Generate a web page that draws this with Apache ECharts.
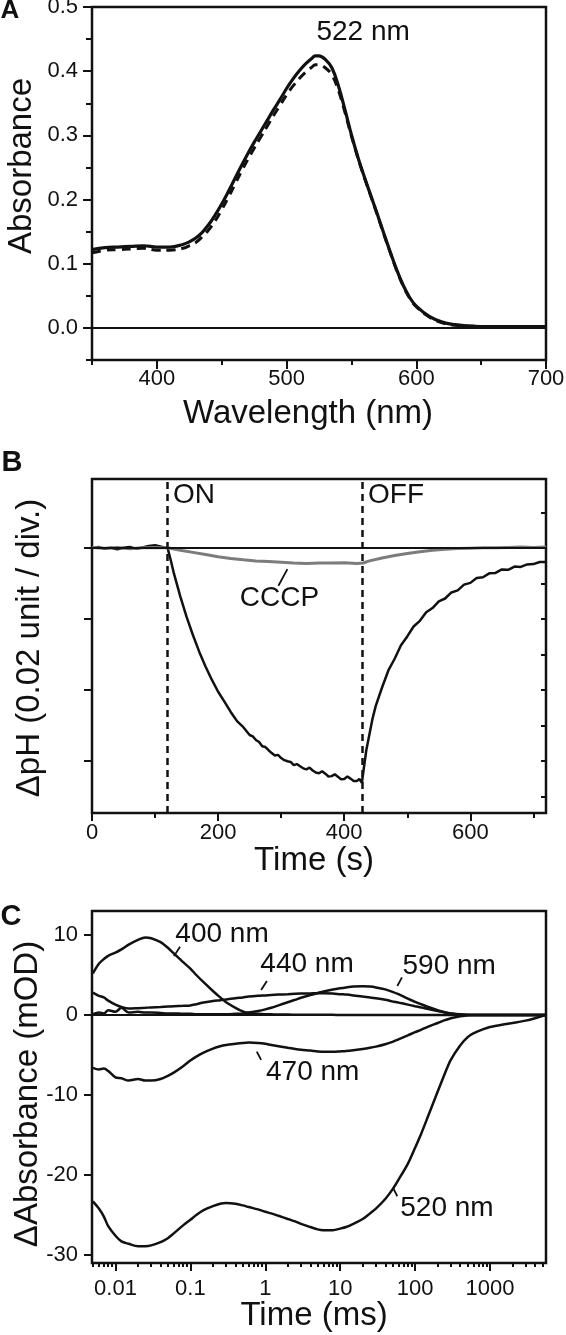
<!DOCTYPE html>
<html><head><meta charset="utf-8">
<script src="https://cdn.jsdelivr.net/npm/echarts@6/dist/echarts.min.js"></script>
<style>html,body{margin:0;padding:0;background:#fff}#c{width:566px;height:1335px}</style>
</head><body><div id="c"></div>
<script>
// ---------- Panel A : absorption spectra ----------
const wavelengths = [350,360,370,380,390,400,410,420,425,430,435,440,445,450,455,460,465,470,475,480,485,490,495,500,505,510,515,520,522,525,530,535,540,545,550,555,560,565,570,575,580,585,590,595,600,610,620,630,640,660,680,700];
const absSolid    = [0.122,0.125,0.126,0.127,0.128,0.126,0.126,0.130,0.134,0.140,0.149,0.161,0.176,0.193,0.212,0.232,0.252,0.271,0.289,0.306,0.323,0.340,0.356,0.373,0.388,0.401,0.412,0.421,0.424,0.424,0.418,0.405,0.377,0.340,0.301,0.266,0.235,0.206,0.177,0.147,0.118,0.090,0.066,0.047,0.034,0.018,0.009,0.005,0.003,0.002,0.002,0.002];
const absDashed   = [0.117,0.121,0.122,0.123,0.124,0.121,0.121,0.124,0.128,0.133,0.142,0.153,0.167,0.184,0.203,0.223,0.243,0.262,0.280,0.297,0.314,0.331,0.347,0.363,0.377,0.389,0.399,0.407,0.410,0.410,0.405,0.394,0.370,0.336,0.299,0.265,0.234,0.205,0.176,0.146,0.117,0.089,0.065,0.046,0.033,0.017,0.008,0.004,0.003,0.002,0.002,0.002];
const aXLabels = [400,500,600,700];
const aXMinor  = [350,450,550,650];
const aYLabels = [0,0.1,0.2,0.3,0.4,0.5];
const aYMinor  = [-0.05,0.05,0.15,0.25,0.35,0.45];

// ---------- Panel B : pH change ----------
const timeB = [0,10,20,30,40,50,60,70,80,90,100,110,120,125,130,140,150,160,170,180,190,200,210,220,230,240,250,255,260,265,270,275,280,285,290,295,300,305,310,315,320,325,330,335,340,345,350,355,360,365,370,375,380,385,390,395,400,405,410,415,420,424,428,430,435,440,445,450,460,470,480,490,500,510,520,530,540,550,560,570,580,590,600,610,620,630,640,650,660,670,680,690,700,710,720];
const dpH   = [0,0.0003,-0.0002,0.0001,-0.0003,0.0001,0.0003,-0.0002,0.0002,0.0006,0.0008,0.0004,0,-0.0035,-0.0072,-0.0136,-0.0194,-0.0245,-0.0292,-0.0334,-0.0371,-0.0405,-0.0433,-0.0462,-0.0488,-0.0505,-0.0527,-0.0531,-0.0541,-0.0547,-0.0559,-0.0561,-0.057,-0.0578,-0.0585,-0.0583,-0.0592,-0.0598,-0.0601,-0.0603,-0.0612,-0.0609,-0.0615,-0.0621,-0.0624,-0.0619,-0.0627,-0.0633,-0.0635,-0.0629,-0.0636,-0.0644,-0.0643,-0.0638,-0.0645,-0.0652,-0.0651,-0.0644,-0.0650,-0.0657,-0.0657,-0.0651,-0.0662,-0.0635,-0.057,-0.0525,-0.048,-0.0445,-0.0393,-0.0345,-0.0312,-0.0274,-0.0249,-0.0221,-0.0205,-0.0181,-0.0169,-0.015,-0.0142,-0.0125,-0.0119,-0.0103,-0.0098,-0.0084,-0.0082,-0.0071,-0.007,-0.006,-0.0061,-0.0052,-0.0053,-0.0046,-0.0045,-0.0039,-0.0039];
const timeCCCP = [0,20,40,60,80,100,120,140,160,180,200,220,240,260,280,300,320,340,360,380,400,420,430,440,460,480,500,520,540,560,580,600,620,640,660,680,700,720];
const dpHCCCP  = [0.0002,0,0.0002,-0.0002,0.0001,0.0002,0.0001,-0.0006,-0.0012,-0.0018,-0.0024,-0.0029,-0.0033,-0.0036,-0.0038,-0.004,-0.0042,-0.0043,-0.0042,-0.0042,-0.0041,-0.0043,-0.0042,-0.0036,-0.0028,-0.0021,-0.0015,-0.001,-0.0006,-0.0003,-0.0001,0,0.0001,0.0001,0.0002,0.0003,0.0002,0.0003];
const lightTimes = [120, 428];
const bXLabels = [0,200,400,600];
const bXMinor  = [100,300,500,700];
const bYMajor  = [0,-0.02,-0.04,-0.06];
const bYRight  = [0.01,0,-0.01,-0.02,-0.03,-0.04,-0.05,-0.06,-0.07];

// ---------- Panel C : flash-induced absorbance changes ----------
const timeC = [0.005,0.006,0.007,0.008,0.01,0.012,0.015,0.02,0.025,0.03,0.04,0.05,0.06,0.08,0.1,0.12,0.15,0.2,0.25,0.3,0.4,0.5,0.6,0.8,1,1.2,1.5,2,2.5,3,4,5,6,8,10,12,15,20,25,30,40,50,60,80,100,120,150,200,250,300,400,500,600,800,1000,1500,2000,3000,4000,5500];
const d400 = [5.2,6.4,7.0,7.4,7.8,8.2,8.8,9.4,9.7,9.6,9.1,8.4,7.7,6.6,5.8,5.0,4.1,3.0,2.2,1.6,0.9,0.45,0.25,0.15,0.1,0.08,0.05,0.05,0.04,0.03,0.03,0.02,0.02,0.02,0.01,0.01,0.01,0,0,0,0,0,0,0,0,0,0,0,0,0,0,0,0,0,0,0,0,0,0,0];
const d440 = [2.8,2.4,2.2,1.8,1.3,1.0,0.8,0.85,0.9,0.95,1.0,1.05,1.1,1.15,1.2,1.35,1.55,1.75,1.85,1.95,2.1,2.2,2.3,2.4,2.45,2.5,2.55,2.6,2.65,2.68,2.7,2.72,2.72,2.68,2.6,2.55,2.45,2.3,2.2,2.1,1.9,1.7,1.55,1.3,1.1,0.95,0.75,0.5,0.32,0.2,0.08,0.03,0,0,0,0,0,0,0,0];
const d470 = [-6.6,-6.8,-6.7,-7.0,-7.8,-7.9,-8.2,-8.0,-8.2,-8.2,-8.0,-7.6,-7.2,-6.4,-5.7,-5.2,-4.7,-4.2,-3.9,-3.75,-3.6,-3.5,-3.45,-3.5,-3.6,-3.75,-3.9,-4.1,-4.25,-4.35,-4.45,-4.55,-4.6,-4.6,-4.55,-4.5,-4.4,-4.25,-4.1,-3.95,-3.65,-3.35,-3.05,-2.55,-2.15,-1.85,-1.45,-1.0,-0.65,-0.4,-0.15,-0.05,0,0,0,0,0,0,0,0];
const d520 = [-23.3,-24.2,-25.2,-26.4,-27.6,-28.3,-28.6,-28.9,-28.9,-28.8,-28.4,-27.9,-27.3,-26.3,-25.6,-25.0,-24.4,-23.9,-23.6,-23.5,-23.6,-23.8,-24.0,-24.3,-24.6,-24.8,-25.1,-25.5,-25.8,-26.1,-26.5,-26.8,-26.9,-26.9,-26.7,-26.5,-26.1,-25.5,-24.8,-24.2,-23.0,-21.8,-20.6,-18.6,-16.6,-14.9,-12.6,-9.6,-7.3,-5.6,-3.8,-2.8,-2.3,-1.8,-1.5,-1.2,-1.0,-0.7,-0.4,0];
const d590 = [0.1,0.3,0.2,0.6,0.4,0.9,0.3,0.4,0.3,0.3,0.25,0.2,0.2,0.15,0.15,0.1,0.1,0.1,0.1,0.1,0.15,0.2,0.3,0.5,0.7,0.9,1.2,1.6,1.9,2.15,2.5,2.75,2.95,3.2,3.35,3.45,3.55,3.6,3.55,3.45,3.2,2.9,2.6,2.05,1.65,1.35,1.0,0.6,0.35,0.18,0.05,0,0,0,0,0,0,0,0,0];
const cXLabels = [0.01,0.1,1,10,100,1000];
const cXLabelText = ['0.01','0.1','1','10','100','1000'];
const cXMinor = [0.005,0.006,0.007,0.008,0.009,0.02,0.03,0.04,0.05,0.06,0.07,0.08,0.09,0.2,0.3,0.4,0.5,0.6,0.7,0.8,0.9,2,3,4,5,6,7,8,9,20,30,40,50,60,70,80,90,200,300,400,500,600,700,800,900,2000,3000,4000,5000];
const cYLabels = [-30,-20,-10,0,10];

// annotations (data coordinates)
const annA = [{text:'522 nm', x:559, y:0.461, align:'center'}];
const annB = [{text:'ON', x:128.5, y:0.0150, align:'left'},{text:'OFF', x:437.7, y:0.0150, align:'left'},{text:'CCCP', x:297.4, y:-0.0141, align:'center'}];
const leadB = [[309.9,-0.0059,295.6,-0.0106]];
const annC = [{text:'400 nm',x:0.2647,y:10.1},{text:'440 nm',x:3.61,y:6.36},{text:'590 nm',x:285.6,y:6.11},{text:'470 nm',x:4.30,y:-7.15},{text:'520 nm',x:266.5,y:-24.2}];
const leadC = [[0.0604,7.36,0.0728,8.52],[0.880,3.12,1.052,4.24],[57.9,3.62,66.9,4.70],[0.771,-4.58,0.880,-5.61],[50.8,-21.62,57.9,-22.66]];

// ---------- chart ----------
const FONT = '"Liberation Sans", Arial, Helvetica, sans-serif';
const BLACK = '#111';
const GRAY = '#7c7c7c';
const zip = (xs, ys) => xs.map((x, i) => [x, ys[i]]);

function grid(top, height) {
  return {left: 92, width: 454, top: top, height: height, show: true, borderColor: BLACK, borderWidth: 2.5,
          backgroundColor: 'transparent', containLabel: false, outerBoundsMode: 'none'};
}
function axis(kind, opts) {
  const a = {
    type: opts.type || 'value', gridIndex: opts.grid, position: opts.position,
    min: opts.min, max: opts.max,
    axisLine: {show: false, onZero: false},
    splitLine: {show: false},
    axisTick: {show: !!opts.ticks, inside: !!opts.inside, length: opts.len || 8, customValues: opts.ticks,
               lineStyle: {color: BLACK, width: 2}},
    axisLabel: opts.labels ? {show: true, customValues: opts.labels, formatter: opts.fmt, margin: opts.margin,
               fontSize: 22, color: BLACK, fontFamily: FONT} : {show: false},
    minorTick: {show: false}
  };
  if (opts.type === 'log') a.logBase = 10;
  return a;
}

const option = {
  animation: false,
  backgroundColor: '#fff',
  grid: [grid(7, 353), grid(479, 334), grid(911, 352)],
  xAxis: [
    axis('x', {grid:0, position:'bottom', min:350, max:700, ticks:aXLabels, len:9, labels:aXLabels, fmt: v => String(v), margin: 8}),
    axis('x', {grid:0, position:'bottom', min:350, max:700, ticks:aXMinor, len:5}),
    axis('x', {grid:1, position:'bottom', min:0, max:720, ticks:bXLabels, len:8, labels:bXLabels, fmt: v => String(v), margin: 9}),
    axis('x', {grid:1, position:'bottom', min:0, max:720, ticks:bXMinor, len:5}),
    axis('x', {grid:2, type:'log', position:'bottom', min:0.00486, max:5600, ticks:cXLabels, len:8,
               labels:cXLabels, margin: 15,
               fmt: v => { let b = 0; cXLabels.forEach((c, i) => { if (Math.abs(Math.log10(c) - Math.log10(v)) < 0.01) b = i; }); return cXLabelText[b]; }}),
    axis('x', {grid:2, type:'log', position:'bottom', min:0.00486, max:5600, ticks:cXMinor, len:4})
  ],
  yAxis: [
    axis('y', {grid:0, position:'left', min:-0.05, max:0.5, ticks:aYLabels, len:9, labels:aYLabels, fmt: v => v.toFixed(1), margin: 14}),
    axis('y', {grid:0, position:'left', min:-0.05, max:0.5, ticks:aYMinor, len:6}),
    axis('y', {grid:1, position:'left', min:-0.0747, max:0.0195, ticks:bYMajor, len:8}),
    axis('y', {grid:1, position:'right', min:-0.0747, max:0.0195, ticks:bYRight, len:5, inside:true}),
    axis('y', {grid:2, position:'left', min:-31, max:13, ticks:cYLabels, len:8, labels:cYLabels, fmt: v => String(v), margin: 14})
  ],
  series: [
    {type:'line', name:'A solid', xAxisIndex:0, yAxisIndex:0, data: zip(wavelengths, absSolid), showSymbol:false, smooth:0.4,
     lineStyle:{color:BLACK, width:3.2}, z:3,
     markLine:{silent:true, symbol:'none', label:{show:false}, lineStyle:{color:BLACK, width:2, type:'solid'}, data:[{yAxis:0}]}},
    {type:'line', name:'A dashed', xAxisIndex:0, yAxisIndex:0, data: zip(wavelengths, absDashed), showSymbol:false, smooth:0.4,
     lineStyle:{color:BLACK, width:3, type:[9,6]}, z:2},
    {type:'line', name:'B', xAxisIndex:2, yAxisIndex:2, data: zip(timeB, dpH), showSymbol:false,
     lineStyle:{color:BLACK, width:2.5}, z:2,
     markLine:{silent:true, symbol:'none', label:{show:false},
       data:[{yAxis:0, lineStyle:{color:BLACK, width:2, type:'solid'}}]
         .concat(lightTimes.map(t => ({xAxis:t, lineStyle:{color:BLACK, width:2.5, type:[7,5]}})))}},
    {type:'line', name:'B CCCP', xAxisIndex:2, yAxisIndex:2, data: zip(timeCCCP, dpHCCCP), showSymbol:false,
     lineStyle:{color:GRAY, width:3}, z:3},
    {type:'line', name:'400', xAxisIndex:4, yAxisIndex:4, data: zip(timeC, d400), showSymbol:false, smooth:0.3, lineStyle:{color:BLACK, width:2.5},
     markLine:{silent:true, symbol:'none', label:{show:false}, lineStyle:{color:BLACK, width:2.2, type:'solid'}, data:[{yAxis:0}]}},
    {type:'line', name:'440', xAxisIndex:4, yAxisIndex:4, data: zip(timeC, d440), showSymbol:false, smooth:0.3, lineStyle:{color:BLACK, width:2.5}},
    {type:'line', name:'470', xAxisIndex:4, yAxisIndex:4, data: zip(timeC, d470), showSymbol:false, smooth:0.3, lineStyle:{color:BLACK, width:2.5}},
    {type:'line', name:'520', xAxisIndex:4, yAxisIndex:4, data: zip(timeC, d520), showSymbol:false, smooth:0.3, lineStyle:{color:BLACK, width:2.5}},
    {type:'line', name:'590', xAxisIndex:4, yAxisIndex:4, data: zip(timeC, d590), showSymbol:false, smooth:0.3, lineStyle:{color:BLACK, width:2.5}}
  ]
};

const chart = echarts.init(document.getElementById('c'), null, {renderer:'canvas'});
chart.setOption(option);

// ---------- texts ----------
function txt(text, x, y, size, opts) {
  opts = opts || {};
  return {type:'text', x: x, y: y, rotation: opts.rot || 0, z: 100, silent: true,
          style:{text: text, fill: opts.fill || BLACK, fontSize: size, fontFamily: FONT,
                 fontWeight: opts.bold ? 'bold' : 'normal',
                 align: opts.align || 'center', verticalAlign: 'middle'}};
}
function line(p, q) {
  return {type:'line', z: 100, silent: true, shape:{x1:p[0], y1:p[1], x2:q[0], y2:q[1]}, style:{stroke: BLACK, lineWidth: 1.8}};
}
const g = [];
g.push(txt('A', 10, 11, 26, {bold:true}));
g.push(txt('B', 12, 463, 29, {bold:true}));
g.push(txt('C', 11, 917, 29, {bold:true}));
g.push(txt('Wavelength (nm)', 308, 414, 33));
g.push(txt('Time (s)', 314, 861, 33));
g.push(txt('Time (ms)', 314, 1316, 33));
g.push(txt('Absorbance', 22, 166, 33, {rot: Math.PI / 2}));
g.push(txt('ΔpH (0.02 unit / div.)', 30, 648, 33, {rot: Math.PI / 2}));
g.push(txt('ΔAbsorbance (mOD)', 28, 1094, 33, {rot: Math.PI / 2}));

const P = (xi, yi, x, y) => chart.convertToPixel({xAxisIndex: xi, yAxisIndex: yi}, [x, y]);
annA.forEach(a => { const p = P(0, 0, a.x, a.y); g.push(txt(a.text, p[0], p[1], 28, {align: a.align})); });
annB.forEach(a => { const p = P(2, 2, a.x, a.y); g.push(txt(a.text, p[0], p[1], 28, {align: a.align})); });
leadB.forEach(l => g.push(line(P(2, 2, l[0], l[1]), P(2, 2, l[2], l[3]))));
annC.forEach(a => { const p = P(4, 4, a.x, a.y); g.push(txt(a.text, p[0], p[1], 28)); });
leadC.forEach(l => g.push(line(P(4, 4, l[0], l[1]), P(4, 4, l[2], l[3]))));
chart.setOption({graphic: g});
</script>
</body></html>
